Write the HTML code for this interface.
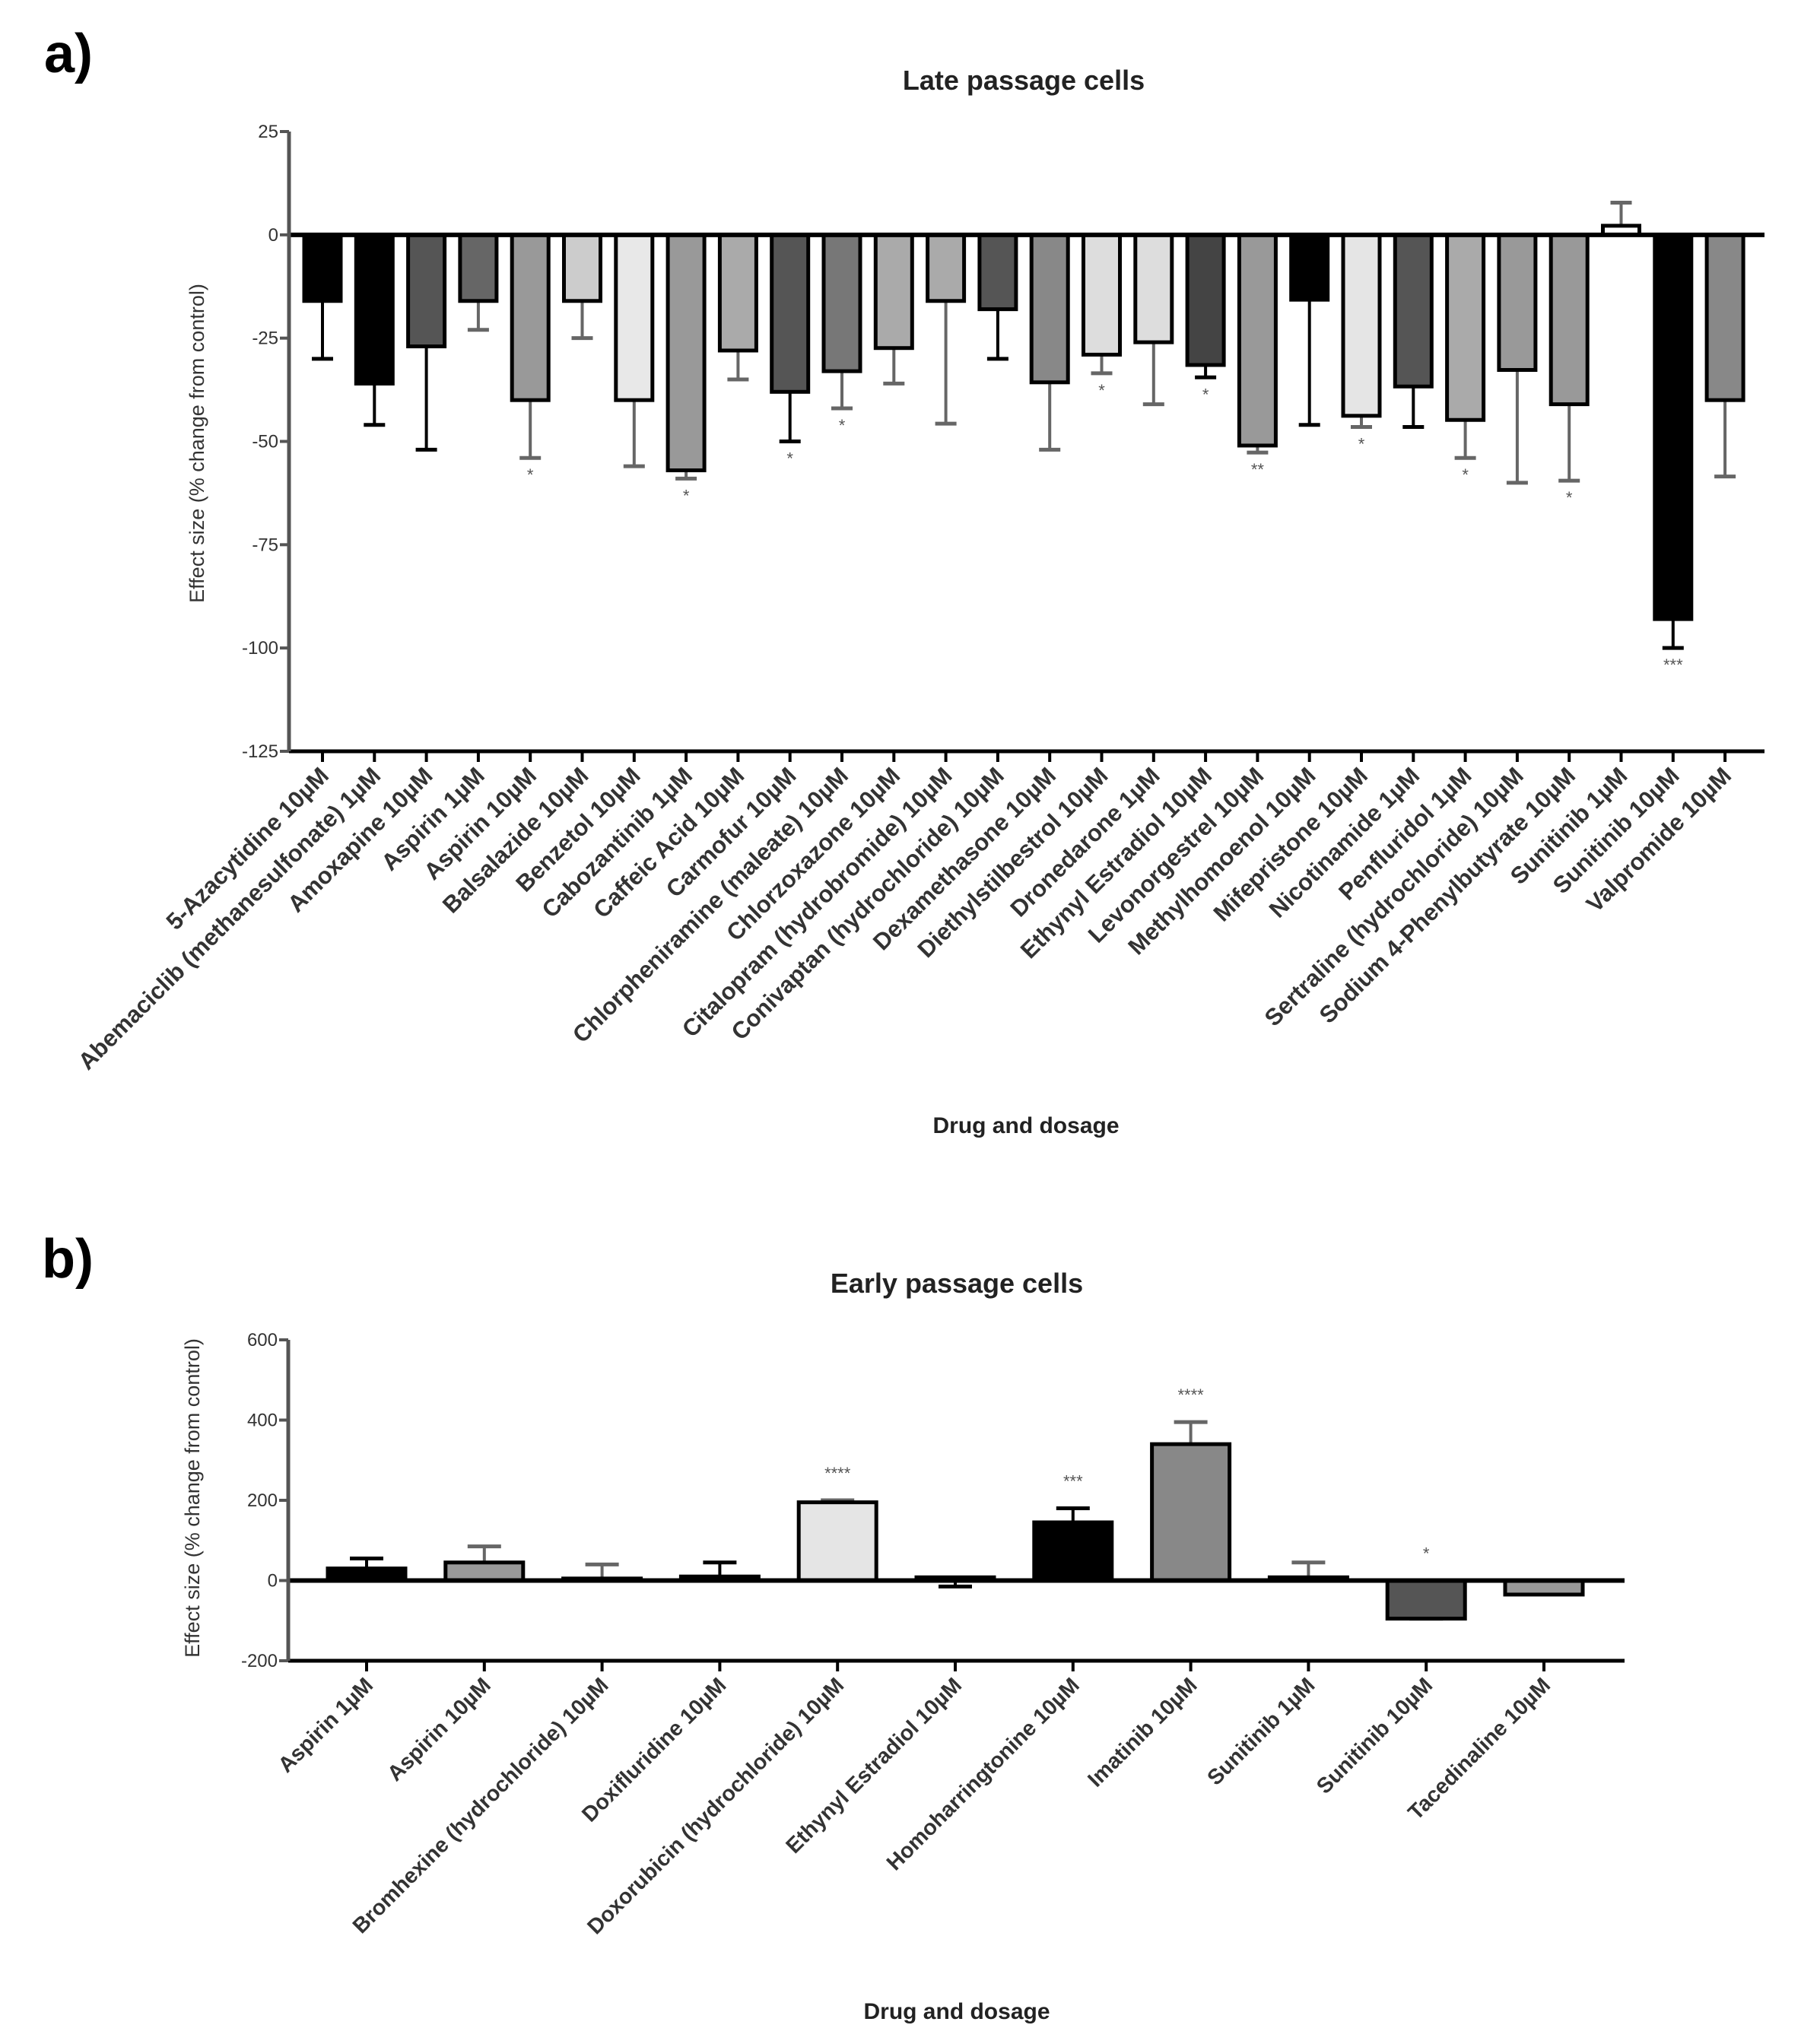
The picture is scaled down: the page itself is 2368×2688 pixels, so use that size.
<!DOCTYPE html>
<html><head><meta charset="utf-8"><style>
html,body{margin:0;padding:0;background:#fff;}
svg{display:block;font-family:"Liberation Sans",Arial,sans-serif;}
</style></head><body>
<svg id="fig" width="2368" height="2688" viewBox="0 0 2368 2688" xmlns="http://www.w3.org/2000/svg">
<text x="58" y="95" font-size="72" font-weight="bold">a)</text>
<text x="1346" y="118" font-size="36" text-anchor="middle" font-weight="bold" fill="#222">Late passage cells</text>
<text x="1349" y="1490" font-size="30" text-anchor="middle" font-weight="bold" fill="#222">Drug and dosage</text>
<text transform="translate(268,583) rotate(-90)" font-size="27" text-anchor="middle" fill="#333">Effect size (% change from control)</text>
<text x="55" y="1680" font-size="72" font-weight="bold">b)</text>
<text x="1258" y="1700" font-size="36" text-anchor="middle" font-weight="bold" fill="#222">Early passage cells</text>
<text x="1258" y="2655" font-size="30" text-anchor="middle" font-weight="bold" fill="#222">Drug and dosage</text>
<text transform="translate(262,1970) rotate(-90)" font-size="27" text-anchor="middle" fill="#333">Effect size (% change from control)</text>
<g id="ga"></g>
<g id="gb"></g>
</svg>
<script>
const aCategories=["5-Azacytidine 10µM","Abemaciclib (methanesulfonate) 1µM","Amoxapine 10µM","Aspirin 1µM","Aspirin 10µM","Balsalazide 10µM","Benzetol 10µM","Cabozantinib 1µM","Caffeic Acid 10µM","Carmofur 10µM","Chlorpheniramine (maleate) 10µM","Chlorzoxazone 10µM","Citalopram (hydrobromide) 10µM","Conivaptan (hydrochloride) 10µM","Dexamethasone 10µM","Diethylstilbestrol 10µM","Dronedarone 1µM","Ethynyl Estradiol 10µM","Levonorgestrel 10µM","Methylhomoenol 10µM","Mifepristone 10µM","Nicotinamide 1µM","Penfluridol 1µM","Sertraline (hydrochloride) 10µM","Sodium 4-Phenylbutyrate 10µM","Sunitinib 1µM","Sunitinib 10µM","Valpromide 10µM"];
const aValues=[-16,-36,-27,-16,-40,-16,-40,-57,-28,-38,-33,-27.4,-16,-18,-35.7,-29,-26,-31.5,-51,-15.7,-43.8,-36.7,-44.8,-32.7,-41,2.2,-93,-40];
const aErrors=[14,10,25,7,14,9,16,2,7,12,9,8.6,29.7,12,16.3,4.5,15,3,1.7,30.3,2.7,9.8,9.2,27.3,18.5,5.6,7,18.5];
const aStars=["","","","","*","","","*","","*","*","","","","","*","","*","**","","*","","*","","*","","***",""];
const aColors=["#000","#000","#555","#666","#999","#ccc","#e8e8e8","#999","#aaa","#555","#777","#aaa","#aaa","#555","#888","#ddd","#ddd","#444","#999","#000","#e5e5e5","#555","#aaa","#999","#999","#fff","#000","#888"];
const aTicks=[25,0,-25,-50,-75,-100,-125];

const bCategories=["Aspirin 1µM","Aspirin 10µM","Bromhexine (hydrochloride) 10µM","Doxifluridine 10µM","Doxorubicin (hydrochloride) 10µM","Ethynyl Estradiol 10µM","Homoharringtonine 10µM","Imatinib 10µM","Sunitinib 1µM","Sunitinib 10µM","Tacedinaline 10µM"];
const bValues=[30,45,5,10,195,8,145,340,8,-95,-35];
const bErrors=[25,40,35,35,5,-23,35,55,37,0,-5];
const bStars=["","","","","****","","***","****","","*",""];
const bColors=["#000","#999","#ccc","#000","#e5e5e5","#333","#000","#888","#aaa","#555","#999"];
const bTicks=[600,400,200,0,-200];

const NS="http://www.w3.org/2000/svg";
function mk(parent,tag,attrs,txt){const e=document.createElementNS(NS,tag);for(const k in attrs)e.setAttribute(k,attrs[k]);if(txt!==undefined)e.textContent=txt;parent.appendChild(e);return e;}

function drawPanel(g,o,cats,vals,errs,stars,cols,ticks,pfx){
  const y=v=>o.y0+(o.vmax-v)*(o.y1-o.y0)/(o.vmax-o.vmin);
  const x=i=>o.xFirst+i*o.step;
  cats.forEach((c,i)=>{
    const v=vals[i],top=Math.min(y(v),y(0)),h=Math.abs(y(v)-y(0));
    const eEnd=v+(v>=0?errs[i]:-errs[i]);
    const ecol=(cols[i]==="#000"||cols[i]==="#333"||cols[i]==="#444"||cols[i]==="#555")?"#000":"#666";
    const l=mk(g,"line",{x1:x(i),x2:x(i),y1:y(v),y2:y(eEnd),stroke:ecol,"stroke-width":4});
    
    
    const cap=mk(g,"line",{x1:x(i)-o.cap,x2:x(i)+o.cap,y1:y(eEnd),y2:y(eEnd),stroke:ecol,"stroke-width":5});
    
    
    const r=mk(g,"rect",{x:x(i)-o.bw/2,y:top,width:o.bw,height:Math.max(h,2),fill:cols[i],stroke:"#000","stroke-width":5});
    
    
    if(stars[i]){
      const sy=o.starAbove?y(Math.max(eEnd,v,0))-28:y(Math.min(eEnd,v))+30;
      const s=mk(g,"text",{x:x(i),y:sy,"font-size":22,"text-anchor":"middle",fill:"#555"},stars[i]);
      
      
    }
    const tk=mk(g,"line",{x1:x(i),x2:x(i),y1:o.y1,y2:o.y1+14,stroke:"#000","stroke-width":4});
    
    
    const lx=x(i)+10,ly=o.y1+34;
    const t=mk(g,"text",{x:lx,y:ly,"font-size":o.lfs,"text-anchor":"end","font-weight":"bold",fill:"#333",transform:`rotate(-45 ${lx} ${ly})`},c);
    
    
  });
  const z=mk(g,"line",{x1:o.xAxis,x2:o.xEnd,y1:y(0),y2:y(0),stroke:"#000","stroke-width":6});
  
  
  const xa=mk(g,"line",{x1:o.xAxis,x2:o.xEnd,y1:o.y1,y2:o.y1,stroke:"#000","stroke-width":5});
  
  
  const ya=mk(g,"line",{x1:o.xAxis,x2:o.xAxis,y1:o.y0,y2:o.y1,stroke:"#555","stroke-width":5});
  
  
  ticks.forEach(t=>{
    const tl=mk(g,"line",{x1:o.xAxis-12,x2:o.xAxis,y1:y(t),y2:y(t),stroke:"#555","stroke-width":4});
    
    
    const tt=mk(g,"text",{x:o.xAxis-14,y:y(t)+8,"font-size":24,"text-anchor":"end",fill:"#333"},String(t));
    
    
  });
}
drawPanel(document.getElementById("ga"),{y0:173,y1:988,vmax:25,vmin:-125,xFirst:424,step:68.3,bw:48,cap:14,xAxis:380,xEnd:2320,lfs:31,starAbove:false},aCategories,aValues,aErrors,aStars,aColors,aTicks,"late");
drawPanel(document.getElementById("gb"),{y0:1762,y1:2184,vmax:600,vmin:-200,xFirst:482,step:154.8,bw:102,cap:22,xAxis:379,xEnd:2136,lfs:28.5,starAbove:true},bCategories,bValues,bErrors,bStars,bColors,bTicks,"early");
</script>
</body></html>
